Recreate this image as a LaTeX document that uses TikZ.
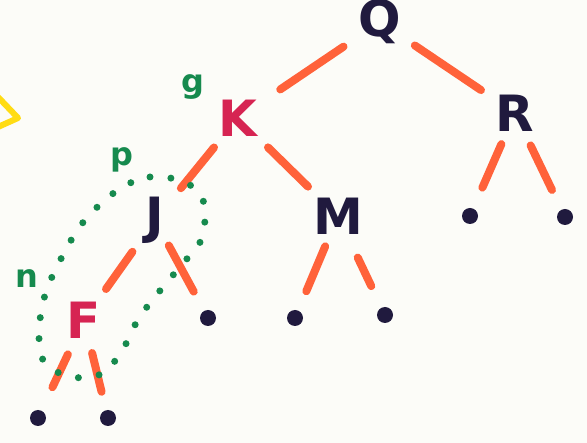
\documentclass[tikz,border=0pt]{standalone}
\usepackage{fontspec}
\setsansfont{DejaVu Sans}
\usepackage{tikz}

\definecolor{penorange}{RGB}{255,98,58}
\definecolor{pennavy}{RGB}{32,26,62}
\definecolor{penred}{RGB}{214,36,82}
\definecolor{pengreen}{RGB}{22,138,78}
\definecolor{penyellow}{RGB}{255,220,20}
\definecolor{paper}{RGB}{252,252,248}

\tikzset{
  letter/.style={font=\fontsize{50}{50}\sffamily\bfseries, inner sep=0pt},
  tag/.style={font=\fontsize{32}{32}\sffamily\bfseries, text=pengreen, inner sep=0pt},
  leaf/.style={circle, fill=pennavy, minimum size=16pt, inner sep=0pt},
  branch/.style={draw=penorange, line width=8pt, line cap=round},
}

\begin{document}
\begin{tikzpicture}[x=1pt, y=-1pt]

\fill[paper] (0,0) rectangle (587,443);
\useasboundingbox (0,0) rectangle (587,443);

% tree nodes
\node[letter, text=pennavy] (q) at (380,22) {Q};
\node[letter, text=penred] (k) at (238,118) {K};
\node[letter, text=pennavy] (r) at (515,113) {R};
\node[letter, text=pennavy] (j) at (155,220) {J};
\node[letter, text=pennavy] (m) at (338,216) {M};
\node[letter, text=penred] (f) at (84,320) {F};

% leaves
\node[leaf] (j2) at (208,318) {};
\node[leaf] (m1) at (295,318) {};
\node[leaf] (m2) at (385,315) {};
\node[leaf] (r1) at (470,216) {};
\node[leaf] (r2) at (565,217) {};
\node[leaf] (f1) at (38,418) {};
\node[leaf] (f2) at (108,418) {};

% green marks
\node[tag] (g) at (193,87) {g};
\node[tag] (p) at (122,160) {p};
\node[tag] (n) at (27,279) {n};

% branches
\draw[branch, shorten <=44pt, shorten >=51pt] (q.center) -- (k.center);
\draw[branch, shorten <=42pt, shorten >=41pt] (q.center) -- (r.center);
\draw[branch, shorten <=38pt, shorten >=41pt] (k.center) -- (j.center);
\draw[branch, shorten <=42pt, shorten >=42pt] (k.center) -- (m.center);
\draw[branch, shorten <=39pt, shorten >=38pt] (j.center) -- (f.center);
\draw[branch, shorten <=29pt, shorten >=30pt] (j.center) -- (j2.center);
\draw[branch, shorten <=33pt, shorten >=29pt] (m.center) -- (m1.center);
\draw[branch, shorten <=46pt, shorten >=32pt] (m.center) -- (m2.center);
\draw[branch, shorten <=34pt, shorten >=31pt] (r.center) -- (r1.center);
\draw[branch, shorten <=36pt, shorten >=30pt] (r.center) -- (r2.center);
\draw[branch, shorten <=38pt, shorten >=34pt] (f.center) -- (f1.center);
\draw[branch, shorten <=34pt, shorten >=27pt] (f.center) -- (f2.center);

% dotted loop round J and F
\draw[pengreen, line width=7pt, line cap=round, dash pattern=on 0pt off 21pt]
  plot[smooth cycle, tension=0.6] coordinates {(118,190) (150,177) (184,182) (203,200)
  (203,235) (190,255) (163,287) (139,318) (124,347) (103,373) (72,377) (45,363)
  (39,335) (45,295) (63,255) (85,220)};

% yellow scrap at the edge
\draw[penyellow, line width=6pt, line join=round] (-2,97) -- (18,118) -- (-2,127);

\end{tikzpicture}
\end{document}
